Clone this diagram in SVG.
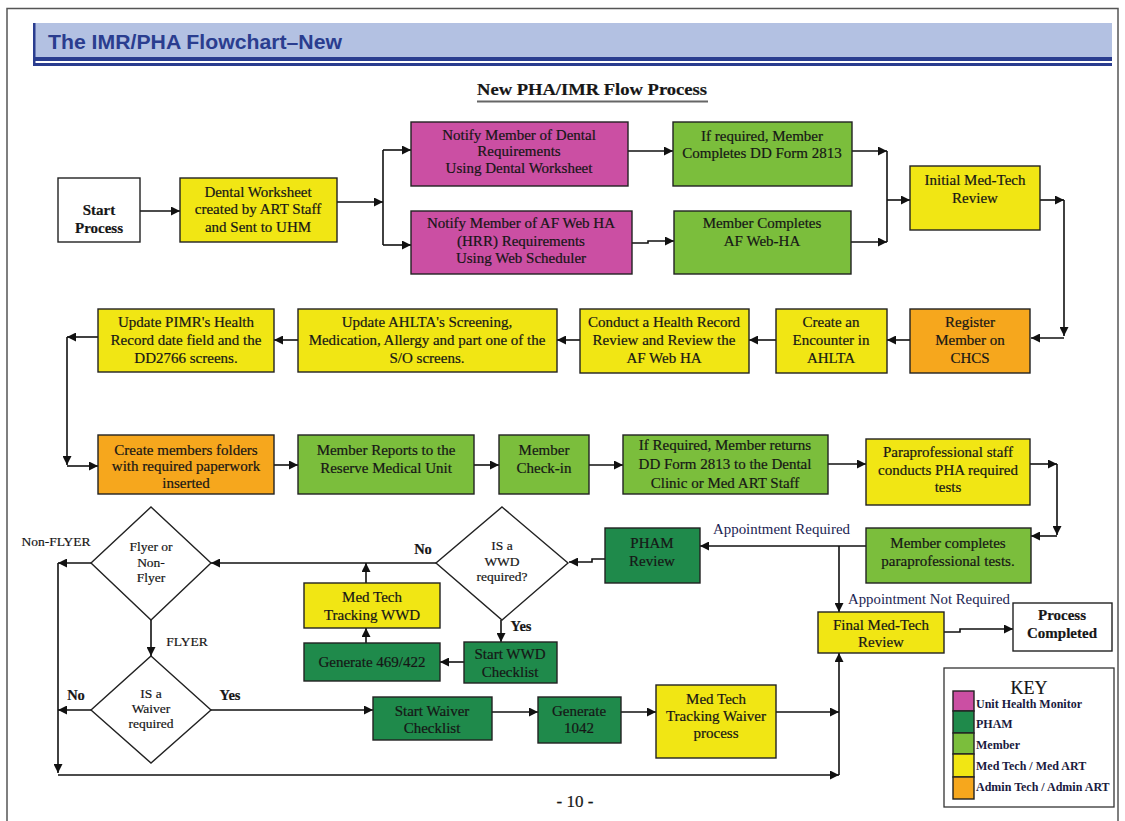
<svg xmlns="http://www.w3.org/2000/svg" width="1125" height="821" viewBox="0 0 1125 821">
<style>
.box{stroke:#222;stroke-width:1.4}
.w{fill:#fff}.pk{fill:#cb4fa3}.lg{fill:#7bbe3c}.dg{fill:#1f8a4b}.ye{fill:#f1e614}.or{fill:#f6a71d}
.t{font-family:"Liberation Serif","Times New Roman",serif;font-size:15px;fill:#161616;stroke:#161616;stroke-width:0.2;text-anchor:middle}
.s{font-size:13.5px}
.b{font-weight:bold}
.c{stroke:#111;stroke-width:1.6;fill:none}
.lbl{font-family:"Liberation Serif","Times New Roman",serif;font-size:14px;fill:#1a2352}
.k{font-family:"Liberation Serif","Times New Roman",serif;font-size:12px;font-weight:bold;fill:#1a1a40}
</style>
<defs>
<marker id="ah" viewBox="0 0 10 10" refX="10" refY="5" markerWidth="9" markerHeight="9" markerUnits="userSpaceOnUse" orient="auto"><path d="M0,0 L10,5 L0,10 z" fill="#111"/></marker>
</defs>
<rect x="0" y="0" width="1125" height="821" fill="#fff"/>
<rect x="7" y="8.5" width="1111" height="830" fill="none" stroke="#555" stroke-width="1.5"/>
<g id="header">
<rect x="33" y="23" width="1079" height="35" fill="#b3c1e2"/>
<rect x="33" y="23" width="2.5" height="40" fill="#2a3d8f"/>
<rect x="33" y="57" width="1079" height="4" fill="#2a3d8f"/>
<rect x="33" y="63" width="1079" height="3" fill="#2a3d8f"/>
<text x="48" y="49" font-family="Liberation Sans, Arial, sans-serif" font-size="20" font-weight="bold" fill="#2a3d8f" textLength="294" lengthAdjust="spacingAndGlyphs">The IMR/PHA Flowchart–New</text>
</g>
<g id="subtitle">
<text x="592" y="95" class="t b" style="font-size:17.5px" textLength="230" lengthAdjust="spacingAndGlyphs">New PHA/IMR Flow Process</text>
<line x1="477" y1="101.5" x2="708" y2="101.5" stroke="#666" stroke-width="2"/>
</g>
<g id="connectors">
<path class="c" d="M140,211 H180" marker-end="url(#ah)"/>
<path class="c" d="M337,202 H383" marker-end="url(#ah)"/>
<path class="c" d="M383,150 V245"/>
<path class="c" d="M383,150 H411" marker-end="url(#ah)"/>
<path class="c" d="M383,245 H411" marker-end="url(#ah)"/>
<path class="c" d="M628,151 H673" marker-end="url(#ah)"/>
<path class="c" d="M632,243 H648 V241 H674" marker-end="url(#ah)"/>
<path class="c" d="M852,151 H887" marker-end="url(#ah)"/>
<path class="c" d="M851,242 H887" marker-end="url(#ah)"/>
<path class="c" d="M887,151 V242"/>
<path class="c" d="M887,200 H910" marker-end="url(#ah)"/>
<path class="c" d="M1040,200 H1064" marker-end="url(#ah)"/>
<path class="c" d="M1064,200 V336" marker-end="url(#ah)"/>
<path class="c" d="M1064,338 H1031" marker-end="url(#ah)"/>
<path class="c" d="M910,340 H887" marker-end="url(#ah)"/>
<path class="c" d="M776,340 H749" marker-end="url(#ah)"/>
<path class="c" d="M580,340 H557" marker-end="url(#ah)"/>
<path class="c" d="M298,340 H274" marker-end="url(#ah)"/>
<path class="c" d="M98,337 H67" marker-end="url(#ah)"/>
<path class="c" d="M67,337 V465" marker-end="url(#ah)"/>
<path class="c" d="M67,466 H98" marker-end="url(#ah)"/>
<path class="c" d="M274,465 H298" marker-end="url(#ah)"/>
<path class="c" d="M474,465 H499" marker-end="url(#ah)"/>
<path class="c" d="M589,465 H623" marker-end="url(#ah)"/>
<path class="c" d="M828,464 H866" marker-end="url(#ah)"/>
<path class="c" d="M1030,464 H1057" marker-end="url(#ah)"/>
<path class="c" d="M1057,464 V535" marker-end="url(#ah)"/>
<path class="c" d="M1057,536 H1031" marker-end="url(#ah)"/>
<path class="c" d="M866,546 H700" marker-end="url(#ah)"/>
<path class="c" d="M839,546 V612" marker-end="url(#ah)"/>
<path class="c" d="M944,632 H960 V629 H1013" marker-end="url(#ah)"/>
<path class="c" d="M605,559 H592 V562 H569" marker-end="url(#ah)"/>
<path class="c" d="M436,563 H211" marker-end="url(#ah)"/>
<path class="c" d="M366,583 V563" marker-end="url(#ah)"/>
<path class="c" d="M366,643 V628" marker-end="url(#ah)"/>
<path class="c" d="M501,620 V642" marker-end="url(#ah)"/>
<path class="c" d="M464,662 H440" marker-end="url(#ah)"/>
<path class="c" d="M91,563 H58" marker-end="url(#ah)"/>
<path class="c" d="M58,563 V773" marker-end="url(#ah)"/>
<path class="c" d="M58,775 H839" marker-end="url(#ah)"/>
<path class="c" d="M151,620 V656" marker-end="url(#ah)"/>
<path class="c" d="M91,710 H58" marker-end="url(#ah)"/>
<path class="c" d="M211,710 H373" marker-end="url(#ah)"/>
<path class="c" d="M492,712 H538" marker-end="url(#ah)"/>
<path class="c" d="M621,712 H656" marker-end="url(#ah)"/>
<path class="c" d="M776,712 H839" marker-end="url(#ah)"/>
<path class="c" d="M839,775 V653" marker-end="url(#ah)"/>
<text class="lbl" x="713" y="534" textLength="137" lengthAdjust="spacingAndGlyphs">Appointment Required</text>
<text class="lbl" x="848" y="604" textLength="162" lengthAdjust="spacingAndGlyphs">Appointment Not Required</text>
<text class="t s" x="56" y="546">Non-FLYER</text>
<text class="t s" x="187" y="646">FLYER</text>
<text class="t b" x="76" y="700" style="font-size:14.5px">No</text>
<text class="t b" x="230" y="700" style="font-size:14.5px">Yes</text>
<text class="t b" x="423" y="554" style="font-size:14.5px">No</text>
<text class="t b" x="521" y="631" style="font-size:14.5px">Yes</text>
</g>
<g id="start"><rect class="box w" x="58" y="178" width="82" height="64"/><text class="t b"><tspan x="99" y="215">Start</tspan><tspan x="99" y="233">Process</tspan></text></g>
<g id="dental"><rect class="box ye" x="180" y="178" width="157" height="64"/><text class="t"><tspan x="258" y="197">Dental Worksheet</tspan><tspan x="258" y="214">created by ART Staff</tspan><tspan x="258" y="232">and Sent to UHM</tspan></text></g>
<g id="notifyDental"><rect class="box pk" x="411" y="122" width="217" height="64"/><text class="t"><tspan x="519" y="140">Notify Member of Dental</tspan><tspan x="519" y="156">Requirements</tspan><tspan x="519" y="173">Using Dental Worksheet</tspan></text></g>
<g id="notifyWeb"><rect class="box pk" x="411" y="211" width="221" height="63"/><text class="t"><tspan x="521" y="228">Notify Member of AF Web HA</tspan><tspan x="521" y="246">(HRR) Requirements</tspan><tspan x="521" y="263">Using Web Scheduler</tspan></text></g>
<g id="dd2813"><rect class="box lg" x="673" y="122" width="179" height="64"/><text class="t"><tspan x="762" y="141">If required, Member</tspan><tspan x="762" y="158">Completes DD Form 2813</tspan></text></g>
<g id="webha"><rect class="box lg" x="674" y="211" width="177" height="63"/><text class="t"><tspan x="762" y="228">Member Completes</tspan><tspan x="762" y="246">AF Web-HA</tspan></text></g>
<g id="initial"><rect class="box ye" x="910" y="166" width="130" height="64"/><text class="t"><tspan x="975" y="185">Initial Med-Tech</tspan><tspan x="975" y="203">Review</tspan></text></g>
<g id="register"><rect class="box or" x="910" y="309" width="120" height="64"/><text class="t"><tspan x="970" y="327">Register</tspan><tspan x="970" y="345">Member on</tspan><tspan x="970" y="363">CHCS</tspan></text></g>
<g id="encounter"><rect class="box ye" x="776" y="309" width="111" height="64"/><text class="t"><tspan x="831" y="327">Create an</tspan><tspan x="831" y="345">Encounter in</tspan><tspan x="831" y="363">AHLTA</tspan></text></g>
<g id="conduct"><rect class="box ye" x="580" y="309" width="169" height="64"/><text class="t"><tspan x="664" y="327">Conduct a Health Record</tspan><tspan x="664" y="345">Review and Review the</tspan><tspan x="664" y="363">AF Web HA</tspan></text></g>
<g id="updateAhlta"><rect class="box ye" x="298" y="309" width="259" height="63"/><text class="t"><tspan x="427" y="327">Update AHLTA's Screening,</tspan><tspan x="427" y="345">Medication, Allergy and part one of the</tspan><tspan x="427" y="363">S/O screens.</tspan></text></g>
<g id="updatePimr"><rect class="box ye" x="98" y="309" width="176" height="63"/><text class="t"><tspan x="186" y="327">Update PIMR's Health</tspan><tspan x="186" y="345">Record date field and the</tspan><tspan x="186" y="363">DD2766 screens.</tspan></text></g>
<g id="folders"><rect class="box or" x="98" y="435" width="176" height="59"/><text class="t"><tspan x="186" y="455">Create members folders</tspan><tspan x="186" y="471">with required paperwork</tspan><tspan x="186" y="488">inserted</tspan></text></g>
<g id="reports"><rect class="box lg" x="298" y="435" width="176" height="59"/><text class="t"><tspan x="386" y="455">Member Reports to the</tspan><tspan x="386" y="473">Reserve Medical Unit</tspan></text></g>
<g id="checkin"><rect class="box lg" x="499" y="435" width="90" height="59"/><text class="t"><tspan x="544" y="455">Member</tspan><tspan x="544" y="473">Check-in</tspan></text></g>
<g id="returns"><rect class="box lg" x="623" y="435" width="205" height="59"/><text class="t"><tspan x="725" y="450">If Required, Member returns</tspan><tspan x="725" y="469">DD Form 2813 to the Dental</tspan><tspan x="725" y="488">Clinic or Med ART Staff</tspan></text></g>
<g id="para"><rect class="box ye" x="866" y="439" width="164" height="66"/><text class="t"><tspan x="948" y="457">Paraprofessional staff</tspan><tspan x="948" y="475">conducts PHA required</tspan><tspan x="948" y="492">tests</tspan></text></g>
<g id="paraDone"><rect class="box lg" x="866" y="528" width="165" height="55"/><text class="t"><tspan x="948" y="548">Member completes</tspan><tspan x="948" y="566">paraprofessional tests.</tspan></text></g>
<g id="pham"><rect class="box dg" x="605" y="528" width="95" height="55"/><text class="t"><tspan x="652" y="548">PHAM</tspan><tspan x="652" y="566">Review</tspan></text></g>
<g id="final"><rect class="box ye" x="818" y="612" width="126" height="41"/><text class="t"><tspan x="881" y="630">Final Med-Tech</tspan><tspan x="881" y="647">Review</tspan></text></g>
<g id="completed"><rect class="box w" x="1013" y="603" width="99" height="48"/><text class="t b"><tspan x="1062" y="620">Process</tspan><tspan x="1062" y="638">Completed</tspan></text></g>
<g id="wwdQ"><polygon class="box w" points="502,507 568,563 502,620 436,563"/><text class="t s"><tspan x="502" y="550">IS a</tspan><tspan x="502" y="566">WWD</tspan><tspan x="502" y="581">required?</tspan></text></g>
<g id="flyerQ"><polygon class="box w" points="151,507 211,563 151,620 91,563"/><text class="t s"><tspan x="151" y="551">Flyer or</tspan><tspan x="151" y="567">Non-</tspan><tspan x="151" y="582">Flyer</tspan></text></g>
<g id="waiverQ"><polygon class="box w" points="151,656 211,710 151,763 91,710"/><text class="t s"><tspan x="151" y="698">IS a</tspan><tspan x="151" y="713">Waiver</tspan><tspan x="151" y="728">required</tspan></text></g>
<g id="trackWwd"><rect class="box ye" x="304" y="583" width="136" height="45"/><text class="t"><tspan x="372" y="602">Med Tech</tspan><tspan x="372" y="620">Tracking WWD</tspan></text></g>
<g id="gen469"><rect class="box dg" x="304" y="643" width="136" height="38"/><text class="t" x="372" y="667">Generate 469/422</text></g>
<g id="startWwd"><rect class="box dg" x="464" y="642" width="93" height="41"/><text class="t"><tspan x="510" y="659">Start WWD</tspan><tspan x="510" y="677">Checklist</tspan></text></g>
<g id="startWaiver"><rect class="box dg" x="373" y="697" width="119" height="43"/><text class="t"><tspan x="432" y="716">Start Waiver</tspan><tspan x="432" y="733">Checklist</tspan></text></g>
<g id="gen1042"><rect class="box dg" x="538" y="697" width="83" height="46"/><text class="t"><tspan x="579" y="716">Generate</tspan><tspan x="579" y="733">1042</tspan></text></g>
<g id="trackWaiver"><rect class="box ye" x="656" y="685" width="120" height="73"/><text class="t"><tspan x="716" y="704">Med Tech</tspan><tspan x="716" y="721">Tracking Waiver</tspan><tspan x="716" y="738">process</tspan></text></g>
<g id="key">
<rect x="944" y="668" width="170" height="139" fill="#fff" stroke="#333" stroke-width="1.3"/>
<text class="t" x="1029" y="694" style="font-size:18px">KEY</text>
<rect class="box pk" x="953" y="691" width="21" height="20"/>
<rect class="box dg" x="953" y="711" width="21" height="22"/>
<rect class="box lg" x="953" y="733" width="21" height="21"/>
<rect class="box ye" x="953" y="754" width="21" height="23"/>
<rect class="box or" x="953" y="777" width="21" height="22"/>
<text class="k" x="976" y="708">Unit Health Monitor</text>
<text class="k" x="976" y="728">PHAM</text>
<text class="k" x="976" y="749">Member</text>
<text class="k" x="976" y="770">Med Tech / Med ART</text>
<text class="k" x="976" y="791">Admin Tech / Admin ART</text>
</g>
<text class="t" x="575" y="807" style="font-size:17px">- 10 -</text>
</svg>
